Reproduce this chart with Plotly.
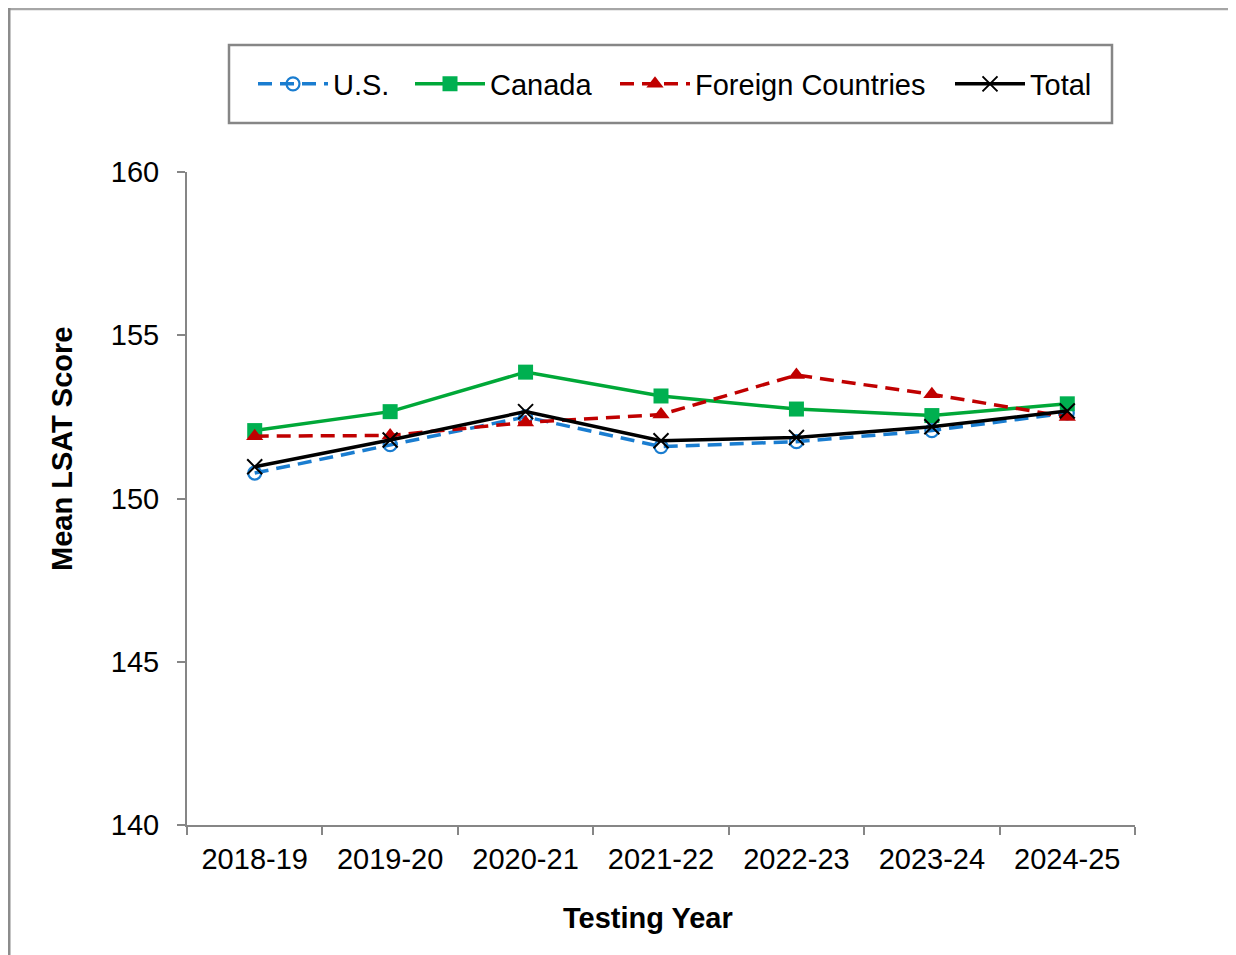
import plotly.graph_objects as go

years = ["2018-19", "2019-20", "2020-21", "2021-22", "2022-23", "2023-24", "2024-25"]
us = [150.78, 151.65, 152.50, 151.59, 151.74, 152.08, 152.62]
canada = [152.08, 152.66, 153.87, 153.14, 152.74, 152.54, 152.90]
foreign = [151.91, 151.93, 152.33, 152.57, 153.78, 153.19, 152.50]
total = [150.97, 151.79, 152.66, 151.77, 151.87, 152.20, 152.68]

y_ticks = [140, 145, 150, 155, 160]

FONT = "Arial, Liberation Sans, sans-serif"
GRAY = "#868686"
FS = 29

W, H = 1236, 955
OFF = 8  # page body margin offset
# desired plot area in screenshot pixels: x 187..1135, y 172..825
L = 187 - OFF
T = 172 - OFF
R = W + OFF - 1135
B = H + OFF - 825
pw, ph = W - L - R, H - T - B

def px(x):
    return (x - OFF - L) / pw

def py(y):
    return (H + OFF - B - y) / ph

# legend line-start positions in the screenshot
leg_x = {"legend": 253, "legend2": 410, "legend3": 615, "legend4": 950}

fig = go.Figure()
fig.add_trace(go.Scatter(
    x=years, y=us, name="U.S.", mode="lines+markers", legend="legend",
    line=dict(color="#1A7DD0", width=3.5, dash="14px,8px"),
    marker=dict(symbol="circle-open", size=13, color="#1A7DD0", line=dict(width=2.2)),
))
fig.add_trace(go.Scatter(
    x=years, y=canada, name="Canada", mode="lines+markers", legend="legend2",
    line=dict(color="#00A838", width=3.5),
    marker=dict(symbol="square", size=15, color="#00B050"),
))
fig.add_trace(go.Scatter(
    x=years, y=foreign, name="Foreign Countries", mode="lines+markers", legend="legend3",
    line=dict(color="#C00000", width=3.5, dash="14px,8px"),
    marker=dict(symbol="triangle-up", size=15, color="#C00000"),
))
fig.add_trace(go.Scatter(
    x=years, y=total, name="Total", mode="lines+markers", legend="legend4",
    line=dict(color="#000000", width=3.5),
    marker=dict(symbol="x-thin-open", size=15, color="#000000", line=dict(width=2, color="#000000")),
))

def leg(name):
    return dict(
        orientation="h", x=px(leg_x[name]), xanchor="left", y=py(84), yanchor="middle",
        font=dict(family=FONT, size=FS, color="#000000"),
        bgcolor="rgba(0,0,0,0)", borderwidth=0, itemwidth=70, itemsizing="trace",
    )

fig.update_layout(
    width=W, height=H,
    margin=dict(l=L, r=R, t=T, b=B, autoexpand=False),
    paper_bgcolor="white", plot_bgcolor="white",
    font=dict(family=FONT, size=FS, color="#000000"),
    showlegend=True,
    legend=leg("legend"), legend2=leg("legend2"), legend3=leg("legend3"), legend4=leg("legend4"),
    xaxis=dict(
        type="category", categoryorder="array", categoryarray=years,
        range=[-0.5, len(years) - 0.5],
        showline=True, linecolor=GRAY, linewidth=2,
        ticks="outside", tickson="boundaries", ticklen=8, tickcolor=GRAY, tickwidth=2,
        showgrid=False, zeroline=False,
        tickfont=dict(family=FONT, size=FS, color="#000000"),
        ticklabelstandoff=7,
    ),
    yaxis=dict(
        range=[140, 160], tickvals=y_ticks, ticktext=[str(v) for v in y_ticks],
        showline=True, linecolor=GRAY, linewidth=2,
        ticks="outside", ticklen=8, tickcolor=GRAY, tickwidth=2,
        showgrid=False, zeroline=False,
        tickfont=dict(family=FONT, size=FS, color="#000000"),
        ticklabelstandoff=12,
    ),
    annotations=[
        dict(text="<b>Mean LSAT Score</b>", textangle=-90, xref="paper", yref="paper",
             x=px(62), y=py(449), xanchor="center", yanchor="middle", showarrow=False,
             font=dict(family=FONT, size=FS, color="#000000")),
        dict(text="<b>Testing Year</b>", xref="paper", yref="paper",
             x=px(647.5), y=py(918), xanchor="center", yanchor="middle", showarrow=False,
             font=dict(family=FONT, size=FS, color="#000000")),
    ],
    shapes=[
        dict(type="rect", xref="paper", yref="paper", x0=px(229), x1=px(1112), y0=py(45), y1=py(123),
             line=dict(color=GRAY, width=2.5), fillcolor="rgba(0,0,0,0)", layer="below"),
        dict(type="line", xref="paper", yref="paper", x0=px(8), x1=px(1244), y0=py(9), y1=py(9),
             line=dict(color="#A6A6A6", width=2.5)),
        dict(type="line", xref="paper", yref="paper", x0=px(9), x1=px(9), y0=py(8), y1=py(963),
             line=dict(color="#8C8C8C", width=3)),
    ],
)

fig.write_html("out.html")
